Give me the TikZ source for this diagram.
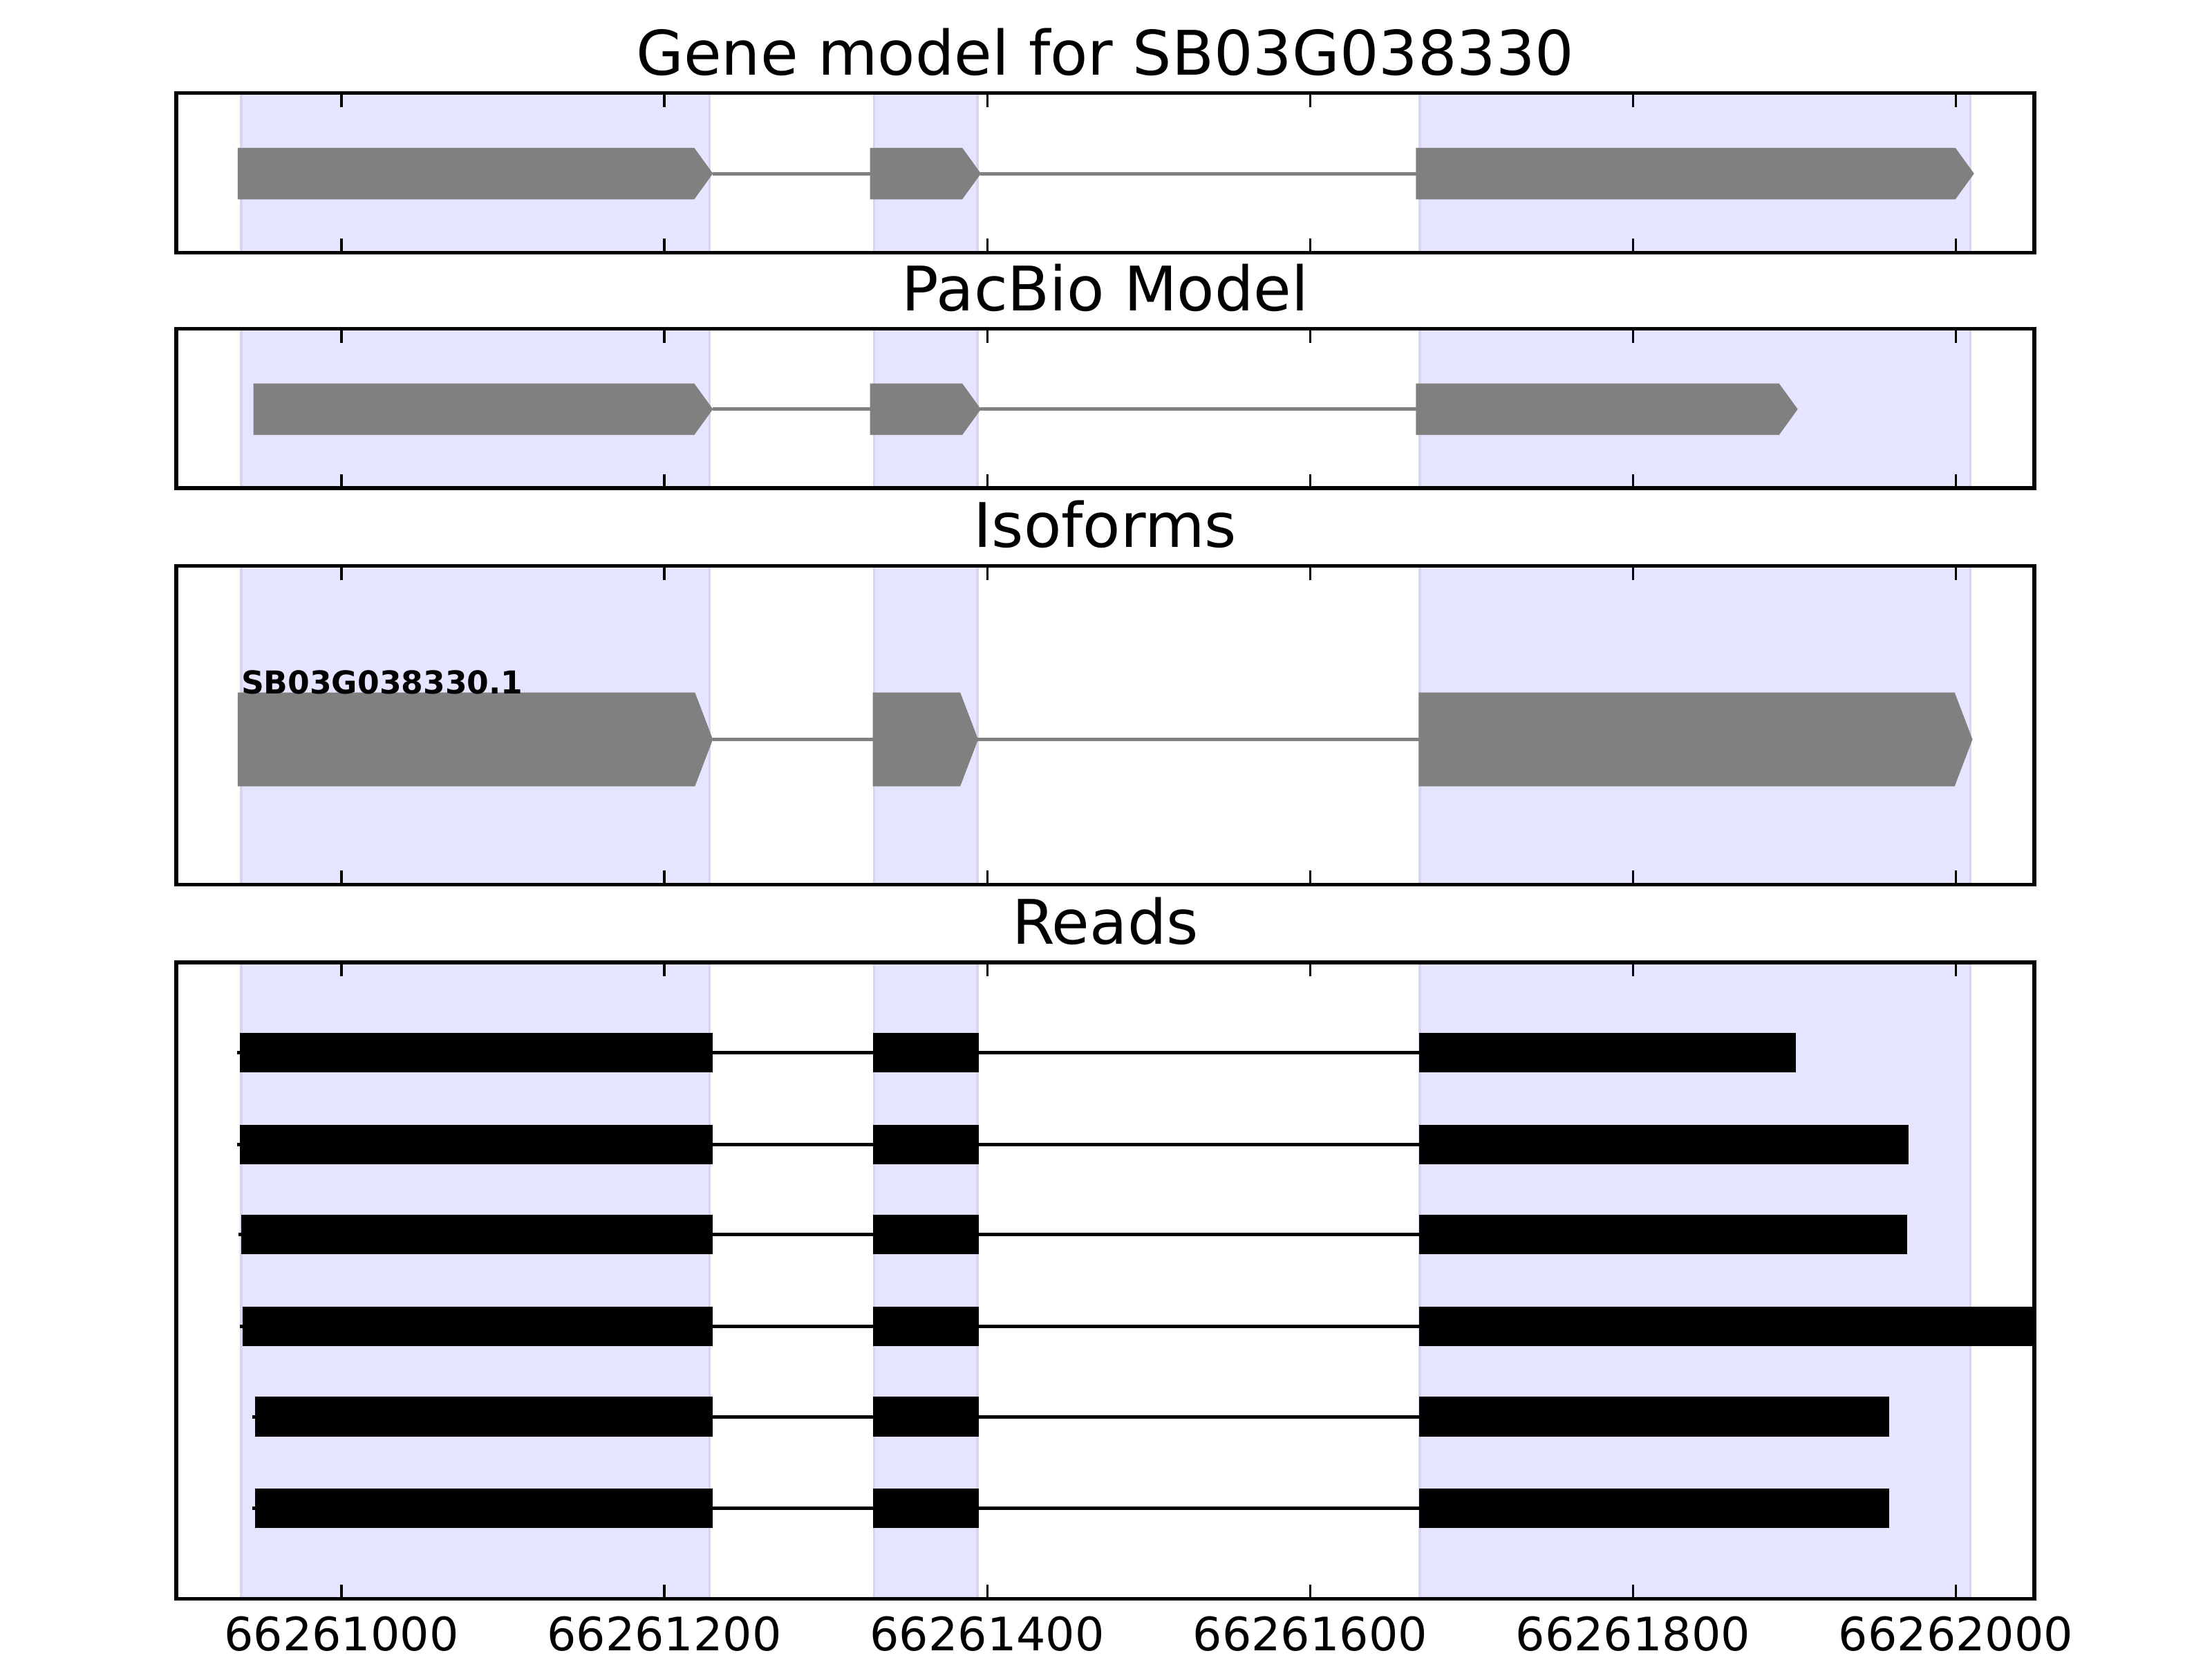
\documentclass[tikz,border=0pt]{standalone}
\usepackage{fontspec}
\setmainfont{DejaVu Sans}
\usetikzlibrary{positioning}

\definecolor{spanblue}{rgb}{0.898,0.898,1}
\definecolor{spanedge}{rgb}{0.84,0.84,0.94}
\definecolor{exongray}{rgb}{0.5,0.5,0.5}

\tikzset{
  panel/.style = {draw=black, line width=1pt},
  span/.style = {fill=spanblue, draw=spanedge, line width=0.6pt},
  exon/.style = {fill=exongray, draw=exongray, line width=0.2pt},
  intron/.style = {draw=exongray, line width=0.9pt},
  readline/.style = {draw=black, line width=0.9pt},
  tickmark/.style = {draw=black, line width=0.6pt},
  title/.style = {anchor=base, font=\fontsize{16}{19}\selectfont},
  ticklabel/.style = {anchor=base, font=\fontsize{12}{14}\selectfont},
  isolabel/.style = {anchor=base west, inner sep=0pt, font=\bfseries\fontsize{8.2}{10}\selectfont}
}

% exon with arrow tip: start, tip, y centre, half height, tip length
\newcommand{\exonarrow}[5]{%
  \fill[exon] (#1,#3-#4) -- ({#2-#5},#3-#4) -- (#2,#3) -- ({#2-#5},#3+#4) -- (#1,#3+#4) -- cycle;}

\begin{document}
\begin{tikzpicture}[x=0.42043pt, y=-0.36735pt]
  \useasboundingbox (-211.45,0) rectangle (1158.6,1176);

  % blue exon regions in every panel
  \foreach \top/\bot in {66/179, 233/346, 401/627, 682/1133} {
    \foreach \a/\b in {-62/228, 330/394, 668/1009}
      \filldraw[span] (\a,\top) rectangle (\b,\bot);
  }

  % gene model
  \exonarrow{-64}{229.8}{123}{18}{11.4}
  \draw[intron] (229.8,123) -- (327.6,123);
  \exonarrow{327.6}{395.8}{123}{18}{11.4}
  \draw[intron] (395.8,123) -- (665.8,123);
  \exonarrow{665.8}{1010.9}{123}{18}{11.4}

  % pacbio model
  \exonarrow{-54.2}{229.8}{290}{18}{11.4}
  \draw[intron] (229.8,290) -- (327.6,290);
  \exonarrow{327.6}{395.8}{290}{18}{11.4}
  \draw[intron] (395.8,290) -- (665.8,290);
  \exonarrow{665.8}{901.7}{290}{18}{11.4}

  % isoforms
  \exonarrow{-64}{229.8}{524}{33}{11}
  \draw[intron] (229.8,524) -- (329.4,524);
  \exonarrow{329.4}{394.1}{524}{33}{11}
  \draw[intron] (394.1,524) -- (667.5,524);
  \exonarrow{667.5}{1010}{524}{33}{11}
  \node[isolabel] (L) at (-62.5,491.5) {SB03G038330.1};

  % reads
  \begin{scope}
    \clip (-102.2,682) rectangle (1048.5,1133);
    \foreach \y/\s/\e in {746/-62.9/900.8, 811/-62.9/970.7, 875/-62/969.9,
                          940/-61.2/1100, 1004/-53.3/958.5, 1069/-53.3/958.5} {
      \draw[readline] ({\s-1.8},\y) -- (667.5,\y);
      \fill (\s,\y-14) rectangle (229.8,\y+14);
      \fill (329.4,\y-14) rectangle (394.9,\y+14);
      \fill (667.5,\y-14) rectangle (\e,\y+14);
    }
  \end{scope}

  % frames and ticks
  \foreach \top/\bot in {66/179, 233/346, 401/627, 682/1133} {
    \draw[panel] (-102.2,\top) rectangle (1048.5,\bot);
    \foreach \t in {0,200,...,1000} {
      \draw[tickmark] (\t,\top) -- ++(0,10);
      \draw[tickmark] (\t,\bot) -- ++(0,-10);
    }
  }

  % titles
  \node[title] (G) at (473.1,53) {Gene model for SB03G038330};
  \node[title] (P) at (473.1,220) {PacBio Model};
  \node[title] (I) at (473.1,388) {Isoforms};
  \node[title] (R) at (473.1,669) {Reads};

  % axis labels
  \foreach \t/\lab in {0/66261000, 200/66261200, 400/66261400,
                       600/66261600, 800/66261800, 1000/66262000}
    \node[ticklabel] at (\t,1170) {\lab};
\end{tikzpicture}
\end{document}
